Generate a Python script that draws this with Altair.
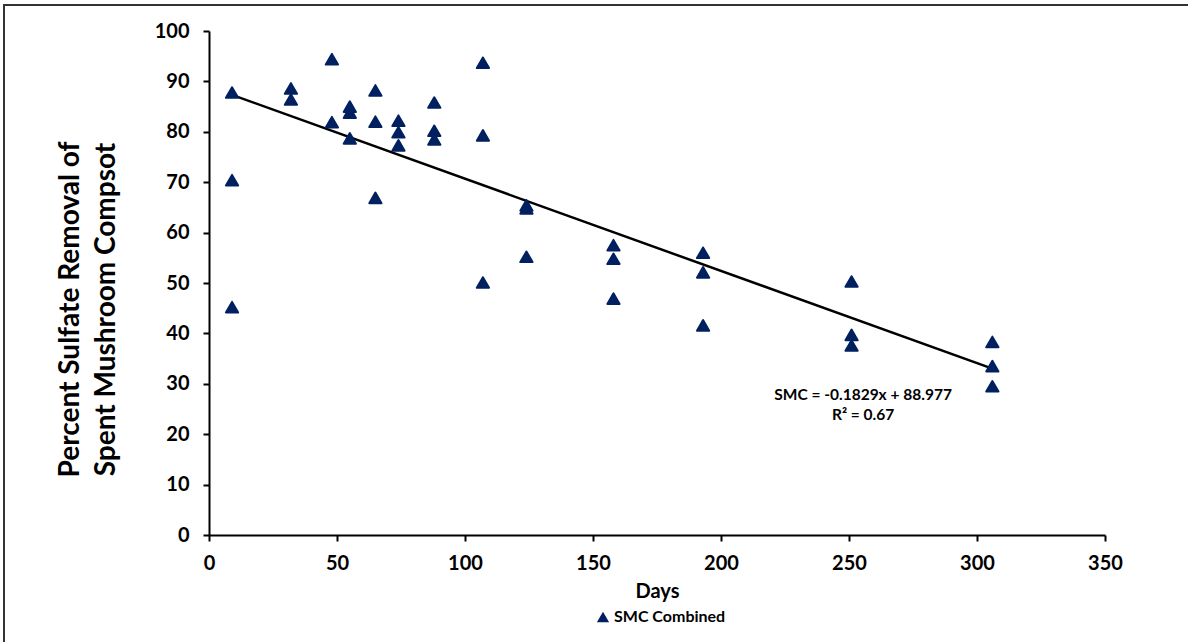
import altair as alt
import pandas as pd

# ---- data ----
days = [9, 9, 9,
        32, 32,
        48, 48,
        55, 55, 55,
        65, 65, 65,
        74, 74, 74,
        88, 88, 88,
        107, 107, 107,
        124, 124, 124,
        158, 158, 158,
        193, 193, 193,
        251, 251, 251,
        306, 306, 306]
removal = [87.8, 70.4, 45.2,
           88.6, 86.4,
           94.4, 81.9,
           85.0, 83.8, 78.7,
           88.2, 82.0, 66.9,
           82.2, 79.9, 77.3,
           85.8, 80.2, 78.5,
           93.7, 79.3, 50.1,
           65.4, 64.8, 55.2,
           57.5, 54.8, 46.9,
           56.0, 52.1, 41.6,
           50.3, 39.7, 37.6,
           38.3, 33.5, 29.5]
series_name = "SMC Combined"

slope = -0.1829
intercept = 88.977
eq_lines = ["SMC = -0.1829x + 88.977", "R² = 0.67"]
eq_x = [255.5, 255.5]
eq_y = [27.8, 23.8]

x_ticks = [0, 50, 100, 150, 200, 250, 300, 350]
y_ticks = [0, 10, 20, 30, 40, 50, 60, 70, 80, 90, 100]

NAVY = "#002060"
FONT = "Lato"

df = pd.DataFrame({"Days": days, "Removal": removal, "Series": series_name})
x_end = [min(days), max(days)]
trend = pd.DataFrame({"Days": x_end, "Removal": [slope * d + intercept for d in x_end]})
eq = pd.DataFrame({"x": eq_x, "y": eq_y, "t": eq_lines})

xscale = alt.Scale(domain=[0, 350], nice=False, zero=False)
yscale = alt.Scale(domain=[0, 100], nice=False, zero=False)

xaxis = alt.Axis(
    values=x_ticks, grid=False, title="Days",
    domainColor="black", domainWidth=2, tickColor="black", tickWidth=2, tickSize=6,
    labelFont=FONT, labelFontSize=20, labelFontWeight="bold", labelColor="black",
    labelPadding=12, labelFlush=False,
    titleFont=FONT, titleFontSize=20, titleFontWeight="bold", titleColor="black",
    titleY=56, titleBaseline="middle", zindex=1,
)
yaxis = alt.Axis(
    values=y_ticks, grid=False, title=["Percent Sulfate Removal of", "Spent Mushroom Compsot"],
    domainColor="black", domainWidth=2, tickColor="black", tickWidth=2, tickSize=6,
    labelFont=FONT, labelFontSize=20, labelFontWeight="bold", labelColor="black",
    labelPadding=14, labelFlush=False,
    titleFont=FONT, titleFontSize=28, titleFontWeight="bold", titleColor="black",
    titleX=-139, titleY=278, titleAngle=-90, titleAlign="center", titleBaseline="middle",
    titleLineHeight=36, zindex=1,
)

points = alt.Chart(df).mark_point(
    shape="triangle-up", filled=True, size=150, opacity=1,
    stroke=NAVY, strokeWidth=2, strokeJoin="round",
).encode(
    x=alt.X("Days:Q", scale=xscale, axis=xaxis),
    y=alt.Y("Removal:Q", scale=yscale, axis=yaxis),
    color=alt.Color("Series:N", scale=alt.Scale(range=[NAVY]),
                    legend=alt.Legend(title=None, orient="none", legendX=386, legendY=578,
                                      labelFont=FONT, labelFontSize=16, labelFontWeight="bold",
                                      labelColor="black", symbolType="triangle-up",
                                      symbolSize=150, symbolStrokeWidth=0, labelOffset=3)),
)

line = alt.Chart(trend).mark_line(color="black", strokeWidth=2.5).encode(
    x=alt.X("Days:Q", scale=xscale),
    y=alt.Y("Removal:Q", scale=yscale),
)

text = alt.Chart(eq).mark_text(font=FONT, fontSize=15.5, fontWeight="bold", color="black",
                               align="center", baseline="middle").encode(
    x=alt.X("x:Q", scale=xscale),
    y=alt.Y("y:Q", scale=yscale),
    text="t:N",
)

one_row = pd.DataFrame({"a": [0]})
frame_top = alt.Chart(one_row).mark_rule(color="#333333", strokeWidth=2).encode(
    x=alt.value(-205), x2=alt.value(1000), y=alt.value(-26))
frame_left = alt.Chart(one_row).mark_rule(color="#333333", strokeWidth=2).encode(
    x=alt.value(-205), y=alt.value(-27), y2=alt.value(640))
# white masks over the faint view edge at the top and right of the plot area
mask_top = alt.Chart(one_row).mark_rule(color="white", strokeWidth=3).encode(
    x=alt.value(2), x2=alt.value(900), y=alt.value(0))
mask_right = alt.Chart(one_row).mark_rule(color="white", strokeWidth=3).encode(
    x=alt.value(896), y=alt.value(-2), y2=alt.value(502))

chart = alt.layer(mask_top, mask_right, frame_top, frame_left, line, points, text).properties(
    width=896, height=504,
    background="white",
    padding={"left": 209, "top": 31, "right": 83, "bottom": 107},
    autosize=alt.AutoSizeParams(type="none"),
).configure_view(stroke=None)

chart.save("out.html", embed_options={"renderer": "svg", "actions": False})
